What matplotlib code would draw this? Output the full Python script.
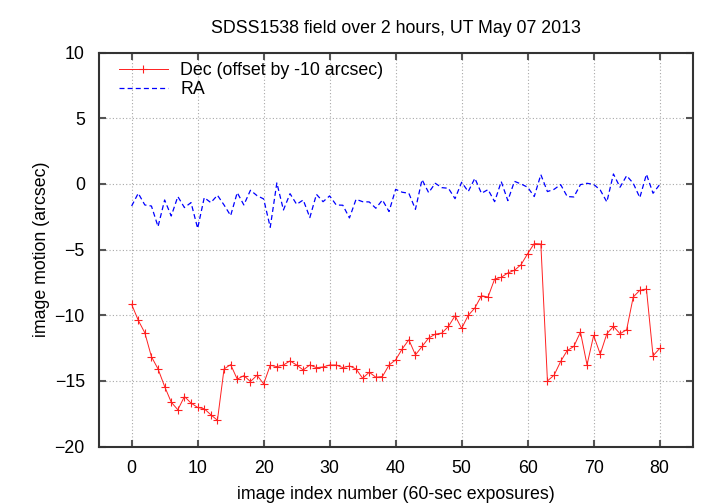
import numpy as np
import matplotlib
matplotlib.use('Agg')
import matplotlib.pyplot as plt

plt.rcParams['font.family'] = ['Liberation Sans', 'DejaVu Sans']
plt.rcParams['font.size'] = 12.8

# image index (60-sec exposures)
idx = np.arange(81)

# RA motion (arcsec)
ra = [-1.68, -0.71, -1.60, -1.68, -3.25, -1.22, -2.44, -0.96, -1.80, -1.42,
      -3.38, -1.04, -1.42, -0.86, -1.60, -2.41, -0.66, -1.60, -0.48, -0.89,
      -1.14, -3.30, 0.08, -1.98, -0.74, -1.55, -1.22, -2.56, -0.79, -1.35,
      -0.91, -1.60, -1.62, -2.59, -1.17, -1.35, -1.37, -1.85, -1.22, -2.10,
      -0.41, -0.63, -0.71, -1.93, 0.33, -0.66, 0.05, -0.28, -0.33, -1.12,
      0.13, -0.58, 0.43, -0.71, -0.43, -1.35, 0.18, -1.27, 0.20, 0.00,
      -0.25, -0.96, 0.71, -0.58, -0.41, -0.05, -0.96, -0.99, -0.05, 0.05,
      -0.03, -0.46, -1.37, 0.76, -0.25, 0.63, 0.05, -1.04, 0.74, -0.71,
      -0.05]

# Dec motion, already offset by -10 arcsec
dec = [-9.17, -10.38, -11.34, -13.16, -14.09, -15.43, -16.62, -17.20, -16.19, -16.69,
       -17.02, -17.12, -17.58, -18.00, -14.09, -13.76, -14.87, -14.60, -15.05, -14.57,
       -15.23, -13.81, -13.91, -13.79, -13.48, -13.79, -14.17, -13.79, -13.99, -13.94,
       -13.79, -13.79, -13.99, -13.86, -14.09, -14.80, -14.34, -14.72, -14.67, -13.79,
       -13.40, -12.56, -11.87, -13.02, -12.38, -11.74, -11.44, -11.36, -10.85, -10.04,
       -11.00, -10.01, -9.45, -8.51, -8.61, -7.24, -7.11, -6.78, -6.58, -6.15,
       -5.31, -4.54, -4.57, -15.00, -14.57, -13.52, -12.68, -12.38, -11.28, -13.78,
       -11.54, -12.96, -11.41, -10.85, -11.41, -11.10, -8.61, -8.10, -8.00, -13.09,
       -12.53]

fig = plt.figure(figsize=(7.2, 5.04), dpi=100)
ax = fig.add_axes([0.137, 0.114, 0.825, 0.7815])

ax.plot(idx, dec, color='#ff2020', lw=0.7, marker='+', ms=5.5, mew=0.8,
        label='Dec (offset by -10 arcsec)')
ax.plot(idx, ra, color='#0000ff', lw=0.9, dashes=(4, 2.5), label='RA')

ax.set_xlim(-5, 85)
ax.set_ylim(-20, 10)
ax.set_xticks(np.arange(0, 81, 10))
ax.set_yticks(np.arange(-20, 11, 5))
ax.grid(True, color='#a8a8a8', linestyle=(0, (1, 2)), lw=0.8)

for s in ax.spines.values():
    s.set_color('#333333')
    s.set_linewidth(1.5)
ax.tick_params(direction='in', length=5, width=1.5, color='#555555',
               top=True, right=True, pad=10)

ax.set_title('SDSS1538 field over 2 hours, UT May 07 2013', fontsize=12.8, pad=14)
ax.set_xlabel('image index number (60-sec exposures)', labelpad=6)
ax.set_ylabel('image motion (arcsec)', labelpad=3)

ax.legend(loc='upper left', bbox_to_anchor=(0.01, 1.012), frameon=False,
          handlelength=2.75, handletextpad=0.7, labelspacing=0.1,
          borderaxespad=0.4)

fig.savefig('out.png', dpi=100)
